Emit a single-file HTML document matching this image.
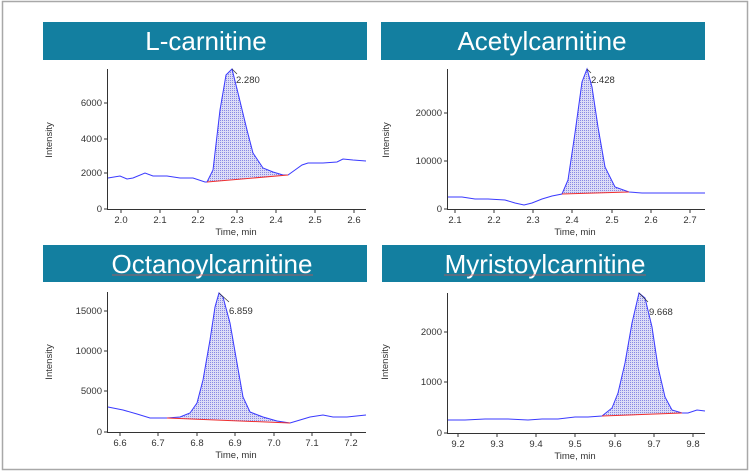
<!DOCTYPE html>
<html><head><meta charset="utf-8"><style>
html,body{margin:0;padding:0;background:#fff;}
svg{display:block;font-family:"Liberation Sans",sans-serif;}
.t{font-size:9.5px;fill:#333;}
.b{font-size:26px;fill:#fff;}
</style></head><body>
<svg width="750" height="473" viewBox="0 0 750 473">
<defs>
<pattern id="h" width="2" height="2" patternUnits="userSpaceOnUse">
<rect width="2" height="2" fill="#dcdcf6"/><rect width="1" height="1" fill="#8888e4"/>
</pattern>
</defs>
<rect x="2.5" y="1.5" width="745" height="468" fill="#fff" stroke="#a8a8a8" stroke-width="1.5"/>

<!-- Banners -->
<rect x="43" y="22" width="324" height="38" fill="#137fa0"/>
<text class="b" x="206" y="50" text-anchor="middle">L-carnitine</text>
<rect x="381" y="22" width="324" height="38" fill="#137fa0"/>
<text class="b" x="542" y="50" text-anchor="middle">Acetylcarnitine</text>
<rect x="43" y="245" width="324" height="37" fill="#137fa0"/>
<text class="b" x="212" y="273" text-anchor="middle">Octanoylcarnitine</text>
<line x1="112" y1="275" x2="313" y2="275" stroke="#d05050" stroke-width="0.8"/>
<rect x="382" y="245" width="323" height="37" fill="#137fa0"/>
<text class="b" x="545" y="273" text-anchor="middle">Myristoylcarnitine</text>
<line x1="444" y1="275" x2="646" y2="275" stroke="#d05050" stroke-width="0.8"/>

<!-- Panel 1 -->
<g>
<path d="M207,182 L213,170 220,110 226,75 232,69 238,93 247,130 253,153 263,168 273,172 283,175 288,175 Z" fill="url(#h)"/>
<polyline fill="none" stroke="#3a3aff" stroke-width="1" points="108,178 120,176 127,179 133,178 145,173 153,176 167,176 180,178 193,178 205,182 207,182 213,170 220,110 226,75 232,69 238,93 247,130 253,153 263,168 273,172 283,175 288,175 295,170 302,165 308,163 323,163 337,162 343,159 353,160 366,161"/>
<line x1="207" y1="182" x2="288" y2="175" stroke="#f03030" stroke-width="1"/>
<line x1="232" y1="69" x2="237" y2="74" stroke="#333" stroke-width="0.7"/>
<text class="t" x="236" y="83">2.280</text>
<line x1="107.5" y1="69" x2="107.5" y2="209.5" stroke="#333"/>
<line x1="107" y1="209.5" x2="366" y2="209.5" stroke="#333"/>
<g stroke="#333"><line x1="104" y1="209" x2="107" y2="209"/><line x1="104" y1="173" x2="107" y2="173"/><line x1="104" y1="139" x2="107" y2="139"/><line x1="104" y1="103" x2="107" y2="103"/>
<line x1="121" y1="210" x2="121" y2="213"/><line x1="160" y1="210" x2="160" y2="213"/><line x1="198" y1="210" x2="198" y2="213"/><line x1="237" y1="210" x2="237" y2="213"/><line x1="276" y1="210" x2="276" y2="213"/><line x1="315" y1="210" x2="315" y2="213"/><line x1="354" y1="210" x2="354" y2="213"/></g>
<g class="t" text-anchor="end"><text x="102" y="212">0</text><text x="102" y="176">2000</text><text x="102" y="142">4000</text><text x="102" y="106">6000</text></g>
<g class="t" text-anchor="middle"><text x="121" y="223">2.0</text><text x="160" y="223">2.1</text><text x="198" y="223">2.2</text><text x="237" y="223">2.3</text><text x="276" y="223">2.4</text><text x="315" y="223">2.5</text><text x="354" y="223">2.6</text>
<text x="236" y="235">Time, min</text>
<text transform="translate(52,140) rotate(-90)">Intensity</text></g>
</g>

<!-- Panel 2 -->
<g>
<path d="M562,194 L568,180 575,133 582,82 587,69 592,87 598,127 605,167 615,187 629,192 Z" fill="url(#h)"/>
<polyline fill="none" stroke="#3a3aff" stroke-width="1" points="447,197 462,197 475,199 488,199 505,200 515,203 524,205 532,203 542,199 552,196 562,194 568,180 575,133 582,82 587,69 592,87 598,127 605,167 615,187 629,192 642,193 692,193 705,193"/>
<line x1="562" y1="194" x2="629" y2="192" stroke="#f03030" stroke-width="1"/>
<line x1="587" y1="69" x2="591" y2="73" stroke="#333" stroke-width="0.7"/>
<text class="t" x="591" y="83">2.428</text>
<line x1="447.5" y1="69" x2="447.5" y2="209.5" stroke="#333"/>
<line x1="447" y1="209.5" x2="705" y2="209.5" stroke="#333"/>
<g stroke="#333"><line x1="444" y1="209" x2="447" y2="209"/><line x1="444" y1="161" x2="447" y2="161"/><line x1="444" y1="113" x2="447" y2="113"/>
<line x1="455" y1="210" x2="455" y2="213"/><line x1="494" y1="210" x2="494" y2="213"/><line x1="533" y1="210" x2="533" y2="213"/><line x1="572" y1="210" x2="572" y2="213"/><line x1="612" y1="210" x2="612" y2="213"/><line x1="651" y1="210" x2="651" y2="213"/><line x1="690" y1="210" x2="690" y2="213"/></g>
<g class="t" text-anchor="end"><text x="442" y="212">0</text><text x="442" y="164">10000</text><text x="442" y="116">20000</text></g>
<g class="t" text-anchor="middle"><text x="455" y="223">2.1</text><text x="494" y="223">2.2</text><text x="533" y="223">2.3</text><text x="572" y="223">2.4</text><text x="612" y="223">2.5</text><text x="651" y="223">2.6</text><text x="690" y="223">2.7</text>
<text x="575" y="235">Time, min</text>
<text transform="translate(389,140) rotate(-90)">Intensity</text></g>
</g>

<!-- Panel 3 -->
<g>
<path d="M167,418 L180,417 190,413 197,403 203,380 210,340 215,307 219,293 223,297 230,323 237,363 243,397 250,412 263,417 277,421 290,423 Z" fill="url(#h)"/>
<polyline fill="none" stroke="#3a3aff" stroke-width="1" points="108,407 123,410 137,414 150,418 167,418 180,417 190,413 197,403 203,380 210,340 215,307 219,293 223,297 230,323 237,363 243,397 250,412 263,417 277,421 290,423 300,420 310,417 323,415 333,417 347,417 366,415"/>
<line x1="167" y1="418" x2="290" y2="423" stroke="#f03030" stroke-width="1"/>
<line x1="219" y1="293" x2="229" y2="302" stroke="#333" stroke-width="0.7"/>
<text class="t" x="229" y="314">6.859</text>
<line x1="107.5" y1="292" x2="107.5" y2="432.5" stroke="#333"/>
<line x1="107" y1="432.5" x2="366" y2="432.5" stroke="#333"/>
<g stroke="#333"><line x1="104" y1="432" x2="107" y2="432"/><line x1="104" y1="391" x2="107" y2="391"/><line x1="104" y1="351" x2="107" y2="351"/><line x1="104" y1="311" x2="107" y2="311"/>
<line x1="120" y1="433" x2="120" y2="436"/><line x1="158" y1="433" x2="158" y2="436"/><line x1="197" y1="433" x2="197" y2="436"/><line x1="235" y1="433" x2="235" y2="436"/><line x1="274" y1="433" x2="274" y2="436"/><line x1="312" y1="433" x2="312" y2="436"/><line x1="351" y1="433" x2="351" y2="436"/></g>
<g class="t" text-anchor="end"><text x="102" y="435">0</text><text x="102" y="394">5000</text><text x="102" y="354">10000</text><text x="102" y="314">15000</text></g>
<g class="t" text-anchor="middle"><text x="120" y="446">6.6</text><text x="158" y="446">6.7</text><text x="197" y="446">6.8</text><text x="235" y="446">6.9</text><text x="274" y="446">7.0</text><text x="312" y="446">7.1</text><text x="351" y="446">7.2</text>
<text x="236" y="458">Time, min</text>
<text transform="translate(52,362) rotate(-90)">Intensity</text></g>
</g>

<!-- Panel 4 -->
<g>
<path d="M602,416 L612,408 618,393 625,363 632,323 639,293 645,298 652,327 658,367 665,397 672,410 682,413 Z" fill="url(#h)"/>
<polyline fill="none" stroke="#3a3aff" stroke-width="1" points="447,420 465,420 485,419 508,419 528,420 542,419 558,419 575,417 588,417 602,416 612,408 618,393 625,363 632,323 639,293 645,298 652,327 658,367 665,397 672,410 682,413 688,413 697,410 705,411"/>
<line x1="602" y1="416" x2="682" y2="413" stroke="#f03030" stroke-width="1"/>
<line x1="639" y1="293" x2="648" y2="302" stroke="#333" stroke-width="0.7"/>
<text class="t" x="649" y="315">9.668</text>
<line x1="447.5" y1="293" x2="447.5" y2="433.5" stroke="#333"/>
<line x1="447" y1="433.5" x2="705" y2="433.5" stroke="#333"/>
<g stroke="#333"><line x1="444" y1="433" x2="447" y2="433"/><line x1="444" y1="382" x2="447" y2="382"/><line x1="444" y1="332" x2="447" y2="332"/>
<line x1="458" y1="434" x2="458" y2="437"/><line x1="497" y1="434" x2="497" y2="437"/><line x1="536" y1="434" x2="536" y2="437"/><line x1="575" y1="434" x2="575" y2="437"/><line x1="615" y1="434" x2="615" y2="437"/><line x1="654" y1="434" x2="654" y2="437"/><line x1="693" y1="434" x2="693" y2="437"/></g>
<g class="t" text-anchor="end"><text x="442" y="436">0</text><text x="442" y="385">1000</text><text x="442" y="335">2000</text></g>
<g class="t" text-anchor="middle"><text x="458" y="447">9.2</text><text x="497" y="447">9.3</text><text x="536" y="447">9.4</text><text x="575" y="447">9.5</text><text x="615" y="447">9.6</text><text x="654" y="447">9.7</text><text x="693" y="447">9.8</text>
<text x="575" y="459">Time, min</text>
<text transform="translate(388,362) rotate(-90)">Intensity</text></g>
</g>
</svg>
</body></html>
